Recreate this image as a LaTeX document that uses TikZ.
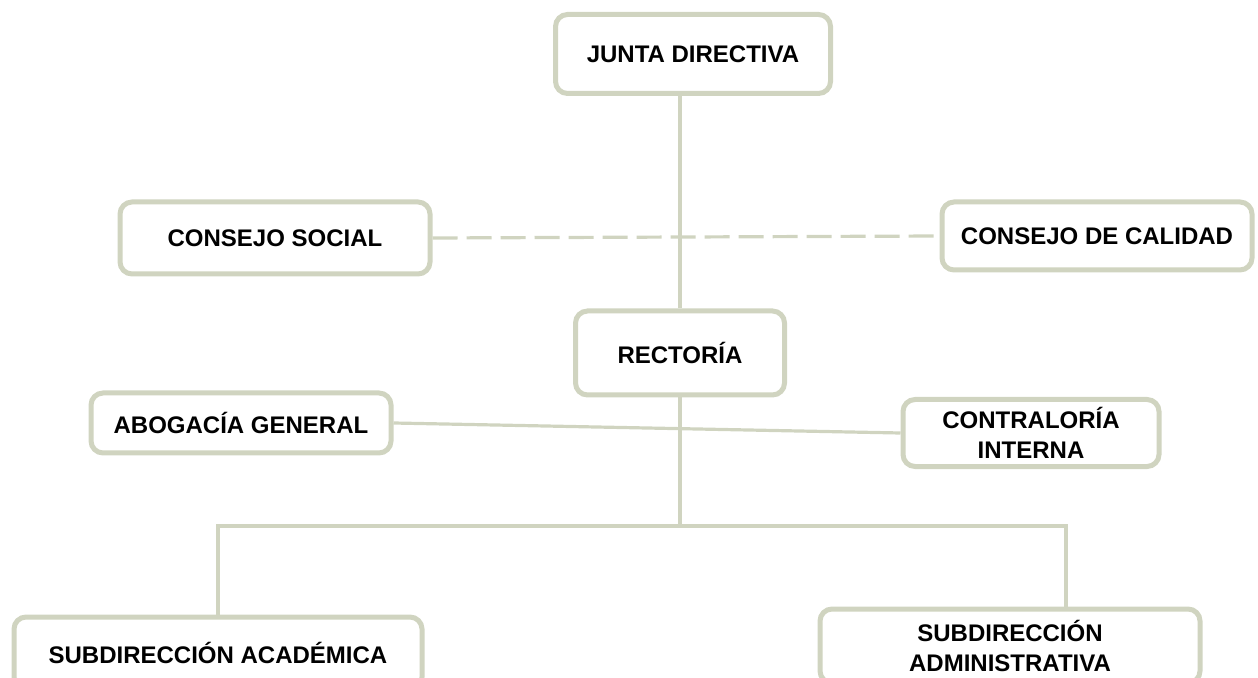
\documentclass[tikz,border=0pt]{standalone}
\usepackage{fontspec}
\setmainfont{Liberation Sans}
\usetikzlibrary{calc}

\definecolor{clrline}{RGB}{208,212,192}

\begin{document}
\begin{tikzpicture}[x=0.5pt,y=-0.5pt,
	cajon/.style={draw=clrline,line width=2.5pt,rounded corners=6pt,fill=white,
		align=center,inner sep=0pt,font=\fontsize{12}{15}\selectfont\bfseries},
	linea/.style={draw=clrline,line width=1.6pt}]

\useasboundingbox (0,0) rectangle (1258,678);

% \caja{name}{x}{y}{w}{h}{text}
\newcommand*{\caja}[6]{
	\node [cajon,minimum width=#4*0.5pt,minimum height=#5*0.5pt] (#1) at (#2,#3) {#6};
}

	\caja{junta}{693}{54}{275}{79}{JUNTA DIRECTIVA}
	\caja{social}{275}{238}{310}{72}{CONSEJO SOCIAL}
	\caja{calidad}{1097}{236}{310}{68}{CONSEJO DE CALIDAD}
	\caja{rectoria}{680}{353}{209}{84}{RECTORÍA}
	\caja{abogacia}{241}{423}{300}{60}{ABOGACÍA GENERAL}
	\caja{contraloria}{1031}{433}{256}{67}{CONTRALORÍA\\INTERNA}
	\caja{academica}{218}{653}{408}{72}{SUBDIRECCIÓN ACADÉMICA}
	\caja{administrativa}{1010}{646}{380}{74}{SUBDIRECCIÓN\\ADMINISTRATIVA}

	\coordinate (bus) at (680,526);

	\draw [linea] (rectoria.north) -- (rectoria.north |- junta.south);
	\draw [linea,dash pattern=on 12.5pt off 4.5pt] (social.east) -- (calidad.west);
	\draw [linea] (abogacia.east) -- (contraloria.west);
	\draw [linea] (rectoria.south) -- (bus);
	\draw [linea] (academica.north) |- (bus) -| ([xshift=28pt]administrativa.north);

\end{tikzpicture}
\end{document}
